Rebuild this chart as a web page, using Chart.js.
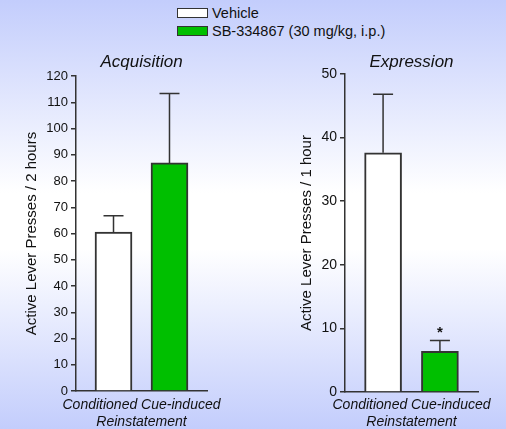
<!DOCTYPE html>
<html>
<head>
<meta charset="utf-8">
<script src="https://cdn.jsdelivr.net/npm/chart.js@4"></script>
<style>
  html, body { margin: 0; padding: 0; }
  body {
    width: 506px; height: 429px; overflow: hidden; position: relative;
    background: linear-gradient(to bottom, #c3cdfc 0%, #ffffff 45%, #ffffff 58%, #c3cdfc 100%);
    font-family: "Liberation Sans", Arial, sans-serif;
  }
  canvas { position: absolute; top: 0; }
  #left { left: 0; }
  #right { left: 253px; }
  .leg { position: absolute; left: 177px; font-size: 14.5px; color: #111; }
  .leg span.box { position: absolute; left: 0; width: 29px; height: 8px; border: 1px solid #333; }
  .leg span.txt { position: absolute; left: 35px; white-space: nowrap; line-height: 16px; }
</style>
</head>
<body>
<div class="leg" style="top:8px"><span class="box" style="background:#fff"></span><span class="txt" style="top:-3px">Vehicle</span></div>
<div class="leg" style="top:26px"><span class="box" style="background:#00bf00"></span><span class="txt" style="top:-3px">SB-334867 (30 mg/kg, i.p.)</span></div>
<canvas id="left" width="253" height="429"></canvas>
<canvas id="right" width="253" height="429"></canvas>
<script>
// groups and colours
const groups = ['Vehicle', 'SB-334867 (30 mg/kg, i.p.)'];
const barColors = ['#ffffff', '#00bf00'];
const xTitle = ['Conditioned Cue-induced', 'Reinstatement'];

// acquisition panel
const acqMeans = [60.5, 86.9];
const acqErrors = [6.3, 26.4];
const acqMarks = ['', ''];

// expression panel
const expMeans = [37.6, 6.4];
const expErrors = [9.2, 1.7];
const expMarks = ['', '*'];

const ink = '#333333';
const font = '"Liberation Sans", Arial, sans-serif';

// error bars, significance marks, panel title and x caption
const panelExtras = {
  id: 'panelExtras',
  afterDatasetsDraw(chart, args, opts) {
    const ctx = chart.ctx;
    const y = chart.scales.y;
    const meta = chart.getDatasetMeta(0);
    const area = chart.chartArea;
    const midX = (area.left + area.right) / 2;
    ctx.save();
    ctx.strokeStyle = ink;
    ctx.lineWidth = 1.5;
    meta.data.forEach((bar, i) => {
      const topY = y.getPixelForValue(opts.means[i] + opts.errors[i]);
      ctx.beginPath();
      ctx.moveTo(bar.x, bar.y);
      ctx.lineTo(bar.x, topY);
      ctx.moveTo(bar.x - 10, topY);
      ctx.lineTo(bar.x + 10, topY);
      ctx.stroke();
      if (opts.marks[i]) {
        ctx.fillStyle = '#111';
        ctx.font = 'bold 15px ' + font;
        ctx.textAlign = 'center';
        ctx.textBaseline = 'middle';
        ctx.fillText(opts.marks[i], bar.x, topY - 8);
      }
    });
    ctx.fillStyle = '#111';
    ctx.textAlign = 'center';
    ctx.textBaseline = 'middle';
    ctx.font = 'italic 17px ' + font;
    ctx.fillText(opts.title, midX, 62);
    ctx.font = 'italic 14px ' + font;
    xTitle.forEach((line, k) => ctx.fillText(line, midX, 405 + k * 17));
    ctx.restore();
  }
};

function makePanel(id, title, means, errors, marks, yMax, yLabel, cfg) {
  const ctx = document.getElementById(id).getContext('2d');
  return new Chart(ctx, {
    type: 'bar',
    data: {
      datasets: [{
        label: title,
        data: means.map((v, i) => ({ x: i, y: v })),
        backgroundColor: barColors,
        borderColor: ink,
        borderWidth: 2,
        barThickness: 37
      }]
    },
    options: {
      responsive: false,
      animation: false,
      devicePixelRatio: 1,
      layout: { padding: { left: 0, right: cfg.padRight, top: cfg.padTop, bottom: 0 } },
      plugins: {
        legend: { display: false },
        tooltip: { enabled: false },
        panelExtras: { title: title, means: means, errors: errors, marks: marks }
      },
      scales: {
        x: {
          type: 'linear',
          min: -0.67,
          max: 1.67,
          offset: false,
          ticks: { display: false },
          grid: { display: false },
          border: { display: true, color: ink, width: 1.5 },
          afterFit(scale) { scale.height = cfg.xHeight; }
        },
        y: {
          min: 0,
          max: yMax,
          ticks: {
            stepSize: 10,
            color: '#111',
            padding: 3,
            font: { family: font, size: cfg.tickSize }
          },
          grid: { drawOnChartArea: false, drawTicks: true, tickLength: 5, color: ink, lineWidth: 1.5 },
          border: { display: true, color: ink, width: 1.5 },
          title: {
            display: true,
            text: yLabel,
            color: '#111',
            font: { family: font, size: 15 },
            padding: { top: cfg.yTitlePad, bottom: 0 }
          },
          afterFit(scale) { scale.width = cfg.yWidth; }
        }
      }
    },
    plugins: [panelExtras]
  });
}

makePanel('left', 'Acquisition', acqMeans, acqErrors, acqMarks, 120,
  'Active Lever Presses / 2 hours',
  { padRight: 46, padTop: 76, xHeight: 38, yWidth: 76, yTitlePad: 23, tickSize: 13 });

makePanel('right', 'Expression', expMeans, expErrors, expMarks, 50,
  'Active Lever Presses / 1 hour',
  { padRight: 28, padTop: 74, xHeight: 37, yWidth: 92, yTitlePad: 45, tickSize: 14 });
</script>
</body>
</html>
